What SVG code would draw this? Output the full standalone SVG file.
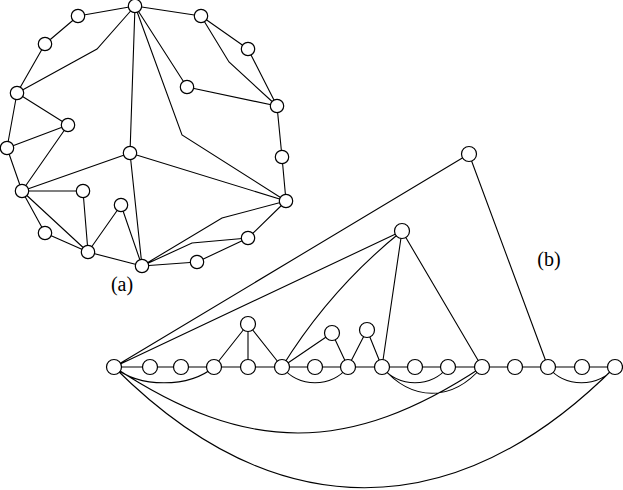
<svg xmlns="http://www.w3.org/2000/svg" width="623" height="490" viewBox="0 0 623 490">
<style>
.e{fill:none;stroke:#000;stroke-width:1.1}
.na{fill:#fff;stroke:#000;stroke-width:1.2}
.nb{fill:#fff;stroke:#000;stroke-width:1.2}
.lbl{font-family:"Liberation Serif","Times New Roman",serif;font-size:20px;fill:#000;text-anchor:middle}
</style>
<rect width="623" height="490" fill="#fff"/>
<g id="connectors">
<!-- part (a) -->
<path class="e" d="M135,6 L78,16 M78,16 L45,44 M45,44 L17,93 M17,93 L97,49 L135,6 M17,93 L68,125 M17,93 L7,148 M68,125 L7,148 M68,125 L22,191 M135,6 L130,153 M135,6 L182,135 L286,201 M135,6 L187,87 M187,87 L277,106 M135,6 L201,16 M201,16 L248,49 M248,49 L277,106 M201,16 L229,62 L277,106 M277,106 L282,157 M282,157 L286,201 M7,148 L22,191 M22,191 L130,153 M130,153 L286,201 M22,191 L83,191 M83,191 L88,252 M22,191 L45,233 M22,191 L88,252 M45,233 L88,252 M88,252 L121,205 M121,205 L142,266 M130,153 L142,266 M88,252 L142,266 M142,266 L222,218 L286,201 M142,266 L192,243 L248,238 M142,266 L197,262 M197,262 L248,238 M248,238 L286,201"/>
<!-- part (b) -->
<path class="e" d="M114,367 L615,367 M114,367 L469,154 M114,367 L402,231 M469,154 L548,367 M402,231 Q330,289 282,367 M402,231 L382,367 M402,231 L482,367 M248,324 L214,367 M248,324 L248,367 M248,324 L282,367 M332,333 L282,367 M332,333 L348,367 M367,330 L348,367 M367,330 L382,367"/>
<path class="e" d="M114,367 C139,388 189,388 214,367 M282,367 C299,388 331,388 348,367 M382,367 C399,388 431,388 448,367 M382,367 C412,402 452,402 482,367 M548,367 C565,388 598,388 615,367 M114,367 C247,455 349,455 482,367 M114,367 C275,528 454,528 615,367"/>
</g>
<g id="nodes-a">
<circle id="a1" class="na" cx="135" cy="6" r="6.7"/>
<circle id="a2" class="na" cx="78" cy="16" r="6.7"/>
<circle id="a3" class="na" cx="45" cy="44" r="6.7"/>
<circle id="a4" class="na" cx="17" cy="93" r="6.7"/>
<circle id="a5" class="na" cx="68" cy="125" r="6.7"/>
<circle id="a6" class="na" cx="7" cy="148" r="6.7"/>
<circle id="a7" class="na" cx="130" cy="153" r="6.7"/>
<circle id="a8" class="na" cx="201" cy="16" r="6.7"/>
<circle id="a9" class="na" cx="248" cy="49" r="6.7"/>
<circle id="a10" class="na" cx="187" cy="87" r="6.7"/>
<circle id="a11" class="na" cx="277" cy="106" r="6.7"/>
<circle id="a12" class="na" cx="282" cy="157" r="6.7"/>
<circle id="a13" class="na" cx="286" cy="201" r="6.7"/>
<circle id="a14" class="na" cx="22" cy="191" r="6.7"/>
<circle id="a15" class="na" cx="83" cy="191" r="6.7"/>
<circle id="a16" class="na" cx="121" cy="205" r="6.7"/>
<circle id="a17" class="na" cx="45" cy="233" r="6.7"/>
<circle id="a18" class="na" cx="88" cy="252" r="6.7"/>
<circle id="a19" class="na" cx="142" cy="266" r="6.7"/>
<circle id="a20" class="na" cx="197" cy="262" r="6.7"/>
<circle id="a21" class="na" cx="248" cy="238" r="6.7"/>
</g>
<g id="nodes-b">
<circle id="b0" class="nb" cx="114" cy="367" r="7.5"/>
<circle id="b1" class="nb" cx="150" cy="367" r="7.5"/>
<circle id="b2" class="nb" cx="181" cy="367" r="7.5"/>
<circle id="b3" class="nb" cx="214" cy="367" r="7.5"/>
<circle id="b4" class="nb" cx="248" cy="367" r="7.5"/>
<circle id="b5" class="nb" cx="282" cy="367" r="7.5"/>
<circle id="b6" class="nb" cx="315" cy="367" r="7.5"/>
<circle id="b7" class="nb" cx="348" cy="367" r="7.5"/>
<circle id="b8" class="nb" cx="382" cy="367" r="7.5"/>
<circle id="b9" class="nb" cx="415" cy="367" r="7.5"/>
<circle id="b10" class="nb" cx="448" cy="367" r="7.5"/>
<circle id="b11" class="nb" cx="482" cy="367" r="7.5"/>
<circle id="b12" class="nb" cx="515" cy="367" r="7.5"/>
<circle id="b13" class="nb" cx="548" cy="367" r="7.5"/>
<circle id="b14" class="nb" cx="582" cy="367" r="7.5"/>
<circle id="b15" class="nb" cx="615" cy="367" r="7.5"/>
<circle id="u1" class="nb" cx="248" cy="324" r="7.5"/>
<circle id="u2" class="nb" cx="332" cy="333" r="7.5"/>
<circle id="u3" class="nb" cx="367" cy="330" r="7.5"/>
<circle id="u4" class="nb" cx="402" cy="231" r="7.5"/>
<circle id="u5" class="nb" cx="469" cy="154" r="7.5"/>
</g>
<g id="labels">
<text class="lbl" x="122" y="290.5">(a)</text>
<text class="lbl" x="549" y="265.5">(b)</text>
</g>
</svg>
